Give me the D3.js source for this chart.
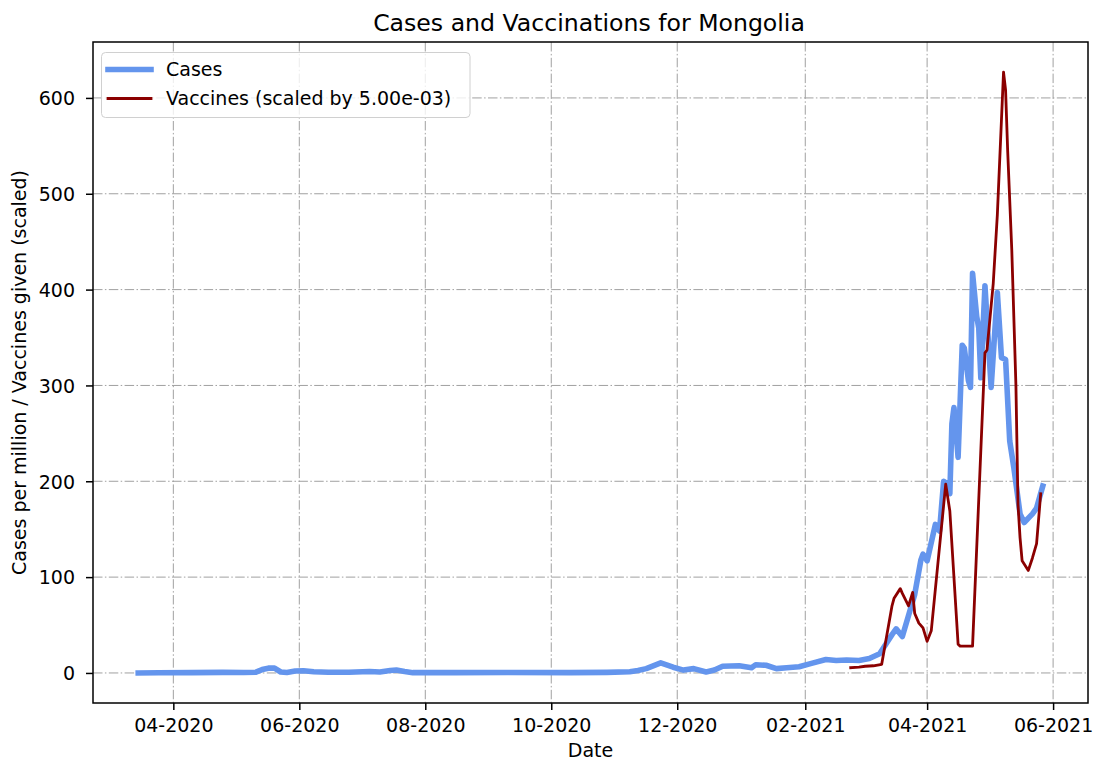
<!DOCTYPE html>
<html>
<head>
<meta charset="utf-8">
<script src="https://cdn.jsdelivr.net/npm/d3@7"></script>
<style>
  html, body { margin: 0; padding: 0; background: #ffffff; }
  svg { display: block; font-family: "DejaVu Sans", sans-serif; }
</style>
</head>
<body>
<svg id="chart" width="1098" height="764"></svg>
<script>
// ---------------- data ----------------
const caseDates = [
  "2020-03-15","2020-03-25","2020-04-10","2020-04-25","2020-05-05","2020-05-11","2020-05-14","2020-05-17",
  "2020-05-20","2020-05-23","2020-05-26","2020-05-30","2020-06-03","2020-06-08","2020-06-15","2020-06-25",
  "2020-07-05","2020-07-10","2020-07-15","2020-07-18","2020-07-22","2020-07-26","2020-08-15","2020-09-10",
  "2020-10-10","2020-10-28","2020-11-08","2020-11-12","2020-11-16","2020-11-23","2020-11-29","2020-12-04",
  "2020-12-09","2020-12-15","2020-12-19","2020-12-23","2020-12-31","2021-01-06","2021-01-08","2021-01-13",
  "2021-01-18","2021-01-23","2021-01-29","2021-02-04","2021-02-11","2021-02-16","2021-02-21","2021-02-27",
  "2021-03-04","2021-03-09","2021-03-12","2021-03-15","2021-03-17","2021-03-20","2021-03-23","2021-03-26",
  "2021-03-29","2021-03-30","2021-04-01","2021-04-05","2021-04-07","2021-04-09","2021-04-11","2021-04-12",
  "2021-04-13","2021-04-14","2021-04-16","2021-04-18","2021-04-19","2021-04-21","2021-04-22","2021-04-23",
  "2021-04-25","2021-04-26","2021-04-27","2021-04-29","2021-05-02","2021-05-05","2021-05-07","2021-05-09",
  "2021-05-11","2021-05-13","2021-05-16","2021-05-18","2021-05-22","2021-05-24","2021-05-27"
];
const caseValues = [
  0, 0.2, 0.3, 0.6, 0.4, 0.8, 3.5, 5,
  5, 1, 0.5, 2, 2.3, 1.3, 0.8, 0.8,
  1.5, 1, 2.5, 3, 1.5, 0.3, 0.3, 0.5,
  0.3, 0.6, 1.3, 2.5, 4.5, 10.5, 6, 3,
  4.5, 1, 3, 7, 7.5, 5.5, 8.5, 8,
  4.5, 5.5, 6.5, 10, 14, 13, 13.5, 13,
  15, 20, 30, 40, 46, 38, 60, 82,
  118, 124, 117, 155, 148, 200, 197, 187,
  260, 277, 225, 342, 339, 305, 298, 417,
  372, 360, 308, 404, 298, 397, 329, 327,
  242, 214, 166, 157, 166, 172, 195
];

const vaccDates = [
  "2021-02-23","2021-02-27","2021-03-02","2021-03-06","2021-03-10","2021-03-15","2021-03-16","2021-03-19",
  "2021-03-20","2021-03-23","2021-03-25","2021-03-26","2021-03-28","2021-03-30","2021-04-01","2021-04-03",
  "2021-04-10","2021-04-12","2021-04-16","2021-04-17","2021-04-23","2021-04-29","2021-04-30","2021-05-03",
  "2021-05-05","2021-05-08","2021-05-09","2021-05-10","2021-05-12","2021-05-14","2021-05-15","2021-05-16",
  "2021-05-17","2021-05-20","2021-05-22","2021-05-24","2021-05-26"
];
const vaccValues = [
  5.5, 6, 7, 7.5, 9, 70, 78, 88,
  83, 70, 84, 62, 52, 47, 33, 44,
  197, 169, 30, 28, 28, 334, 337, 406,
  478, 627, 608, 545, 441, 300, 176, 141,
  117, 107, 120, 135, 187
];

const yTicks = [0, 100, 200, 300, 400, 500, 600];
const xTickDates = ["2020-04-01","2020-06-01","2020-08-01","2020-10-01","2020-12-01","2021-02-01","2021-04-01","2021-06-01"];
const xTickLabels = ["04-2020","06-2020","08-2020","10-2020","12-2020","02-2021","04-2021","06-2021"];

const titleText = "Cases and Vaccinations for Mongolia";
const xLabel = "Date";
const yLabel = "Cases per million / Vaccines given (scaled)";
const legendLabels = ["Cases", "Vaccines (scaled by 5.00e-03)"];

// ---------------- layout ----------------
const parse = d3.utcParse("%Y-%m-%d");
const cases = caseDates.map((d, i) => ({ date: parse(d), value: caseValues[i] }));
const vacc = vaccDates.map((d, i) => ({ date: parse(d), value: vaccValues[i] }));

const pLeft = 93, pRight = 1088, pTop = 42, pBottom = 703;
const svg = d3.select("#chart");

const allDates = cases.concat(vacc).map(d => +d.date);
const dMin = d3.min(allDates), dMax = d3.max(allDates);
const dPad = (dMax - dMin) * 0.05;
const x = d3.scaleUtc().domain([new Date(dMin - dPad), new Date(dMax + dPad)]).range([pLeft, pRight]);

const allVals = caseValues.concat(vaccValues);
const vMin = Math.min(0, d3.min(allVals)), vMax = d3.max(allVals);
const vPad = (vMax - vMin) * 0.05;
const y = d3.scaleLinear().domain([vMin - vPad, vMax + vPad]).range([pBottom, pTop]);

const gridColor = "#a0a0a0";
const gridDash = "9.5,2.4,1.5,2.4";

// grid
const grid = svg.append("g");
xTickDates.forEach(t => {
  const px = x(parse(t));
  grid.append("line").attr("x1", px).attr("x2", px).attr("y1", pTop).attr("y2", pBottom)
    .attr("stroke", gridColor).attr("stroke-width", 1).attr("stroke-dasharray", gridDash);
});
yTicks.forEach(t => {
  const py = y(t);
  grid.append("line").attr("x1", pLeft).attr("x2", pRight).attr("y1", py).attr("y2", py)
    .attr("stroke", gridColor).attr("stroke-width", 1).attr("stroke-dasharray", gridDash);
});

// lines
svg.append("clipPath").attr("id", "plotclip").append("rect")
  .attr("x", pLeft).attr("y", pTop).attr("width", pRight - pLeft).attr("height", pBottom - pTop);

const line = d3.line().x(d => x(d.date)).y(d => y(d.value)).curve(d3.curveLinear);

svg.append("path").datum(cases).attr("d", line)
  .attr("fill", "none").attr("stroke", "#6495ED").attr("stroke-width", 5.6)
  .attr("stroke-linejoin", "round").attr("stroke-linecap", "square")
  .attr("clip-path", "url(#plotclip)");

svg.append("path").datum(vacc).attr("d", line)
  .attr("fill", "none").attr("stroke", "#8B0000").attr("stroke-width", 2.8)
  .attr("stroke-linejoin", "round").attr("stroke-linecap", "square")
  .attr("clip-path", "url(#plotclip)");

// axes
const xAxis = d3.axisBottom(x)
  .tickValues(xTickDates.map(parse))
  .tickFormat((d, i) => xTickLabels[i])
  .tickSizeOuter(0).tickSize(7).tickPadding(6);
const gx = svg.append("g").attr("transform", `translate(0,${pBottom})`).call(xAxis);
gx.select(".domain").remove();
gx.selectAll(".tick line").attr("stroke", "#000").attr("stroke-width", 1.5);
gx.selectAll(".tick text").attr("font-size", 19).attr("fill", "#000")
  .attr("font-family", "DejaVu Sans").attr("dy", null).attr("y", 29);

const yAxis = d3.axisLeft(y).tickValues(yTicks).tickFormat(d3.format("d"))
  .tickSizeOuter(0).tickSize(7).tickPadding(8);
const gy = svg.append("g").attr("transform", `translate(${pLeft},0)`).call(yAxis);
gy.select(".domain").remove();
gy.selectAll(".tick line").attr("stroke", "#000").attr("stroke-width", 1.5);
gy.selectAll(".tick text").attr("font-size", 19).attr("fill", "#000")
  .attr("font-family", "DejaVu Sans").attr("dy", "0.36em").attr("x", -18);

// frame
svg.append("rect").attr("x", pLeft).attr("y", pTop).attr("width", pRight - pLeft).attr("height", pBottom - pTop)
  .attr("fill", "none").attr("stroke", "#000").attr("stroke-width", 1.5);

// title and labels
svg.append("text").attr("x", 589).attr("y", 31).attr("text-anchor", "middle")
  .attr("font-size", 23.6).attr("fill", "#000").text(titleText);
svg.append("text").attr("x", (pLeft + pRight) / 2).attr("y", 757).attr("text-anchor", "middle")
  .attr("font-size", 19).attr("fill", "#000").text(xLabel);
svg.append("text").attr("transform", `translate(26,${(pTop + pBottom) / 2}) rotate(-90)`)
  .attr("text-anchor", "middle").attr("font-size", 19).attr("fill", "#000").text(yLabel);

// legend
const lg = svg.append("g");
lg.append("rect").attr("x", 101.5).attr("y", 52.5).attr("width", 368.5).attr("height", 65).attr("rx", 4)
  .attr("fill", "#fff").attr("fill-opacity", 0.8).attr("stroke", "#d0d0d0").attr("stroke-width", 1);
const legendStyles = [
  { color: "#6495ED", width: 5.6, y: 69.5 },
  { color: "#8B0000", width: 2.8, y: 98.5 }
];
legendStyles.forEach((s, i) => {
  lg.append("line").attr("x1", 108).attr("x2", 151).attr("y1", s.y).attr("y2", s.y)
    .attr("stroke", s.color).attr("stroke-width", s.width).attr("stroke-linecap", "square");
  lg.append("text").attr("x", 166).attr("y", s.y + 6.8).attr("font-size", 19).attr("fill", "#000")
    .text(legendLabels[i]);
});
</script>
</body>
</html>
